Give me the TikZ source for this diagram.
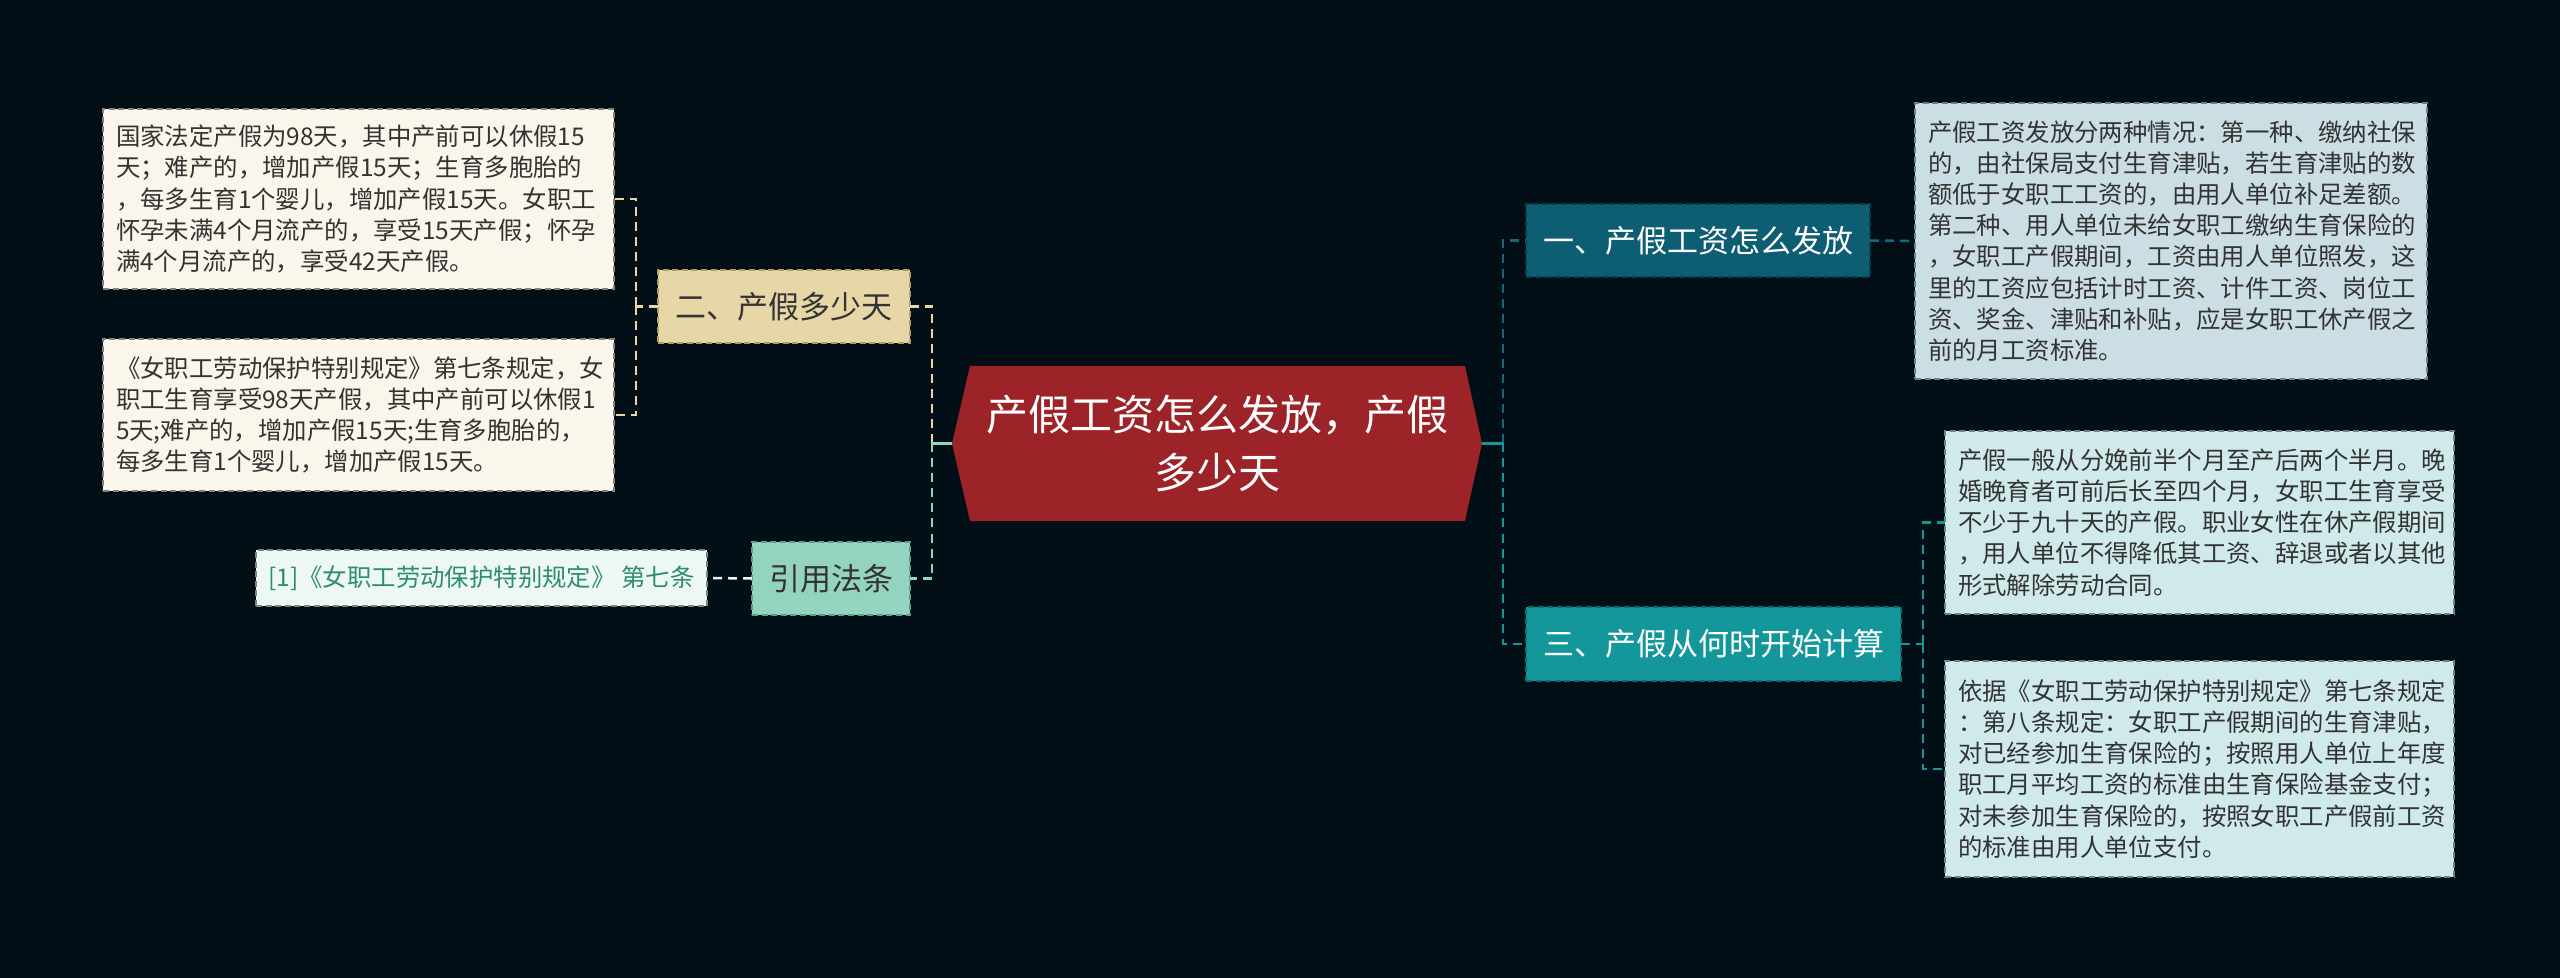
\documentclass[tikz,border=0pt]{standalone}
\usepackage{fontspec}
\setmainfont{Noto Sans CJK SC}
\usetikzlibrary{backgrounds}
\definecolor{bgc}{HTML}{030F17}
\definecolor{cred}{HTML}{9C2429}
\definecolor{tan}{HTML}{E7D6A6}
\definecolor{tanB}{HTML}{B39C66}
\definecolor{mint}{HTML}{94D3BF}
\definecolor{mintB}{HTML}{5F9F8A}
\definecolor{refF}{HTML}{EDF7F3}
\definecolor{refT}{HTML}{2F8D6E}
\definecolor{refB}{HTML}{6F8A80}
\definecolor{cream}{HTML}{FAF6EB}
\definecolor{creamB}{HTML}{85827A}
\definecolor{dteal}{HTML}{0D5E72}
\definecolor{dtealB}{HTML}{083F4D}
\definecolor{dtealC}{HTML}{16697C}
\definecolor{teal}{HTML}{14979A}
\definecolor{tealB}{HTML}{0C6E70}
\definecolor{rOne}{HTML}{CBDEE4}
\definecolor{rTwo}{HTML}{D0E9EB}
\definecolor{rB}{HTML}{66858B}
\definecolor{txt}{HTML}{333333}
\newcommand\leaffont{\fontsize{12.2pt}{15.6pt}\selectfont}
\newcommand\branchfont{\fontsize{15.5pt}{18pt}\selectfont}
\newcommand\centerfont{\fontsize{21pt}{29pt}\selectfont}
\tikzset{
  basebox/.style={rectangle, inner sep=0pt, outer sep=0pt, line width=1pt, dash pattern=on 3pt off 1.8pt},
  leafL/.style={basebox, fill=cream, draw=creamB, text=txt, font=\leaffont, align=left},
  leafR/.style={basebox, fill=#1, draw=rB, text=txt, font=\leaffont, align=left},
  leafRef/.style={basebox, fill=refF, draw=refB, text=refT, font=\leaffont, align=center},
  branch/.style={basebox, font=\branchfont, align=center},
  centerbox/.style={rectangle, inner sep=0pt, outer sep=0pt, text=white, font=\centerfont, align=center},
  conn/.style={line width=1.25pt, dash pattern=on 4.5pt off 3pt},
  stub/.style={line width=1.25pt},
}
\begin{document}
\begin{tikzpicture}[x=0.5pt,y=-0.5pt]
\useasboundingbox (0,0) rectangle (2560,978);

% center
\node[centerbox, minimum width=265pt, minimum height=77.5pt] (center) at (1217,443.5)
  {产假工资怎么发放，产假\\多少天};

% left branches
\node[branch, fill=tan, draw=tanB, text=txt, minimum width=126pt, minimum height=36.5pt] (b2) at (784,306.5) {二、产假多少天};
\node[branch, fill=mint, draw=mintB, text=txt, minimum width=79pt, minimum height=36.5pt] (bref) at (831,578.5) {引用法条};

\node[leafL, minimum width=255.5pt, minimum height=90pt, text width=242.5pt] (l1) at (358.5,199)
 {国家法定产假为98天，其中产前可以休假15\\
  天；难产的，增加产假15天；生育多胞胎的\\
  ，每多生育1个婴儿，增加产假15天。女职工\\
  怀孕未满4个月流产的，享受15天产假；怀孕\\
  满4个月流产的，享受42天产假。};
\node[leafL, minimum width=255.5pt, minimum height=76pt, text width=242.5pt] (l2) at (358.5,415)
 {《女职工劳动保护特别规定》第七条规定，女\\
  职工生育享受98天产假，其中产前可以休假1\\
  5天;难产的，增加产假15天;生育多胞胎的，\\
  每多生育1个婴儿，增加产假15天。};
\node[leafRef, minimum width=225.5pt, minimum height=28pt] (lref) at (481.5,578)
 {[1]《女职工劳动保护特别规定》 第七条};

% right branches
\node[branch, fill=dteal, draw=dtealB, text=white, minimum width=172pt, minimum height=36.5pt] (b1) at (1698,240.5) {一、产假工资怎么发放};
\node[branch, fill=teal, draw=tealB, text=white, minimum width=187.5pt, minimum height=37pt] (b3) at (1713.5,644) {三、产假从何时开始计算};

\node[leafR=rOne, minimum width=256pt, minimum height=138pt, text width=243pt] (r1) at (2171,241)
 {产假工资发放分两种情况：第一种、缴纳社保\\
  的，由社保局支付生育津贴，若生育津贴的数\\
  额低于女职工工资的，由用人单位补足差额。\\
  第二种、用人单位未给女职工缴纳生育保险的\\
  ，女职工产假期间，工资由用人单位照发，这\\
  里的工资应包括计时工资、计件工资、岗位工\\
  资、奖金、津贴和补贴，应是女职工休产假之\\
  前的月工资标准。};
\node[leafR=rTwo, minimum width=254.5pt, minimum height=91.5pt, text width=241.5pt] (r2) at (2199.5,522.5)
 {产假一般从分娩前半个月至产后两个半月。晚\\
  婚晚育者可前后长至四个月，女职工生育享受\\
  不少于九十天的产假。职业女性在休产假期间\\
  ，用人单位不得降低其工资、辞退或者以其他\\
  形式解除劳动合同。};
\node[leafR=rTwo, minimum width=254.5pt, minimum height=108pt, text width=241.5pt] (r3) at (2199.5,769)
 {依据《女职工劳动保护特别规定》第七条规定\\
  ：第八条规定：女职工产假期间的生育津贴，\\
  对已经参加生育保险的；按照用人单位上年度\\
  职工月平均工资的标准由生育保险基金支付；\\
  对未参加生育保险的，按照女职工产假前工资\\
  的标准由用人单位支付。};

% junctions
\coordinate (jL) at (932,443.5);
\coordinate (jL2) at (636,306.5);
\coordinate (jR) at (1503,443.5);
\coordinate (jR3) at (1923,644);

% connectors left
\draw[conn, tan] (jL) |- (b2.east);
\draw[conn, mint] (jL) |- (bref.east);
\draw[stub, mint] (center.west) -- (jL);
\draw[conn, tan] (b2.west) -- (jL2);
\draw[conn, tan] (jL2) |- (l1.east);
\draw[conn, tan] (jL2) |- (l2.east);
\draw[conn, refF] (bref.west) -- (lref.east);

% connectors right
\draw[conn, dtealC] (jR) |- (b1.west);
\draw[conn, teal] (jR) |- (b3.west);
\draw[stub, teal] (center.east) -- (jR);
\draw[conn, dtealC] (b1.east) -- (r1.west);
\draw[conn, teal] (b3.east) -- (jR3);
\draw[conn, teal] (jR3) |- (r2.west);
\draw[conn, teal] (jR3) |- (r3.west);

\begin{scope}[on background layer]
\fill[bgc] (0,0) rectangle (2560,978);
\fill[cred] (center.west) -- ([xshift=9pt]center.north west) -- ([xshift=-8.5pt]center.north east)
  -- (center.east) -- ([xshift=-8.5pt]center.south east) -- ([xshift=9pt]center.south west) -- cycle;
\end{scope}
\end{tikzpicture}
\end{document}
